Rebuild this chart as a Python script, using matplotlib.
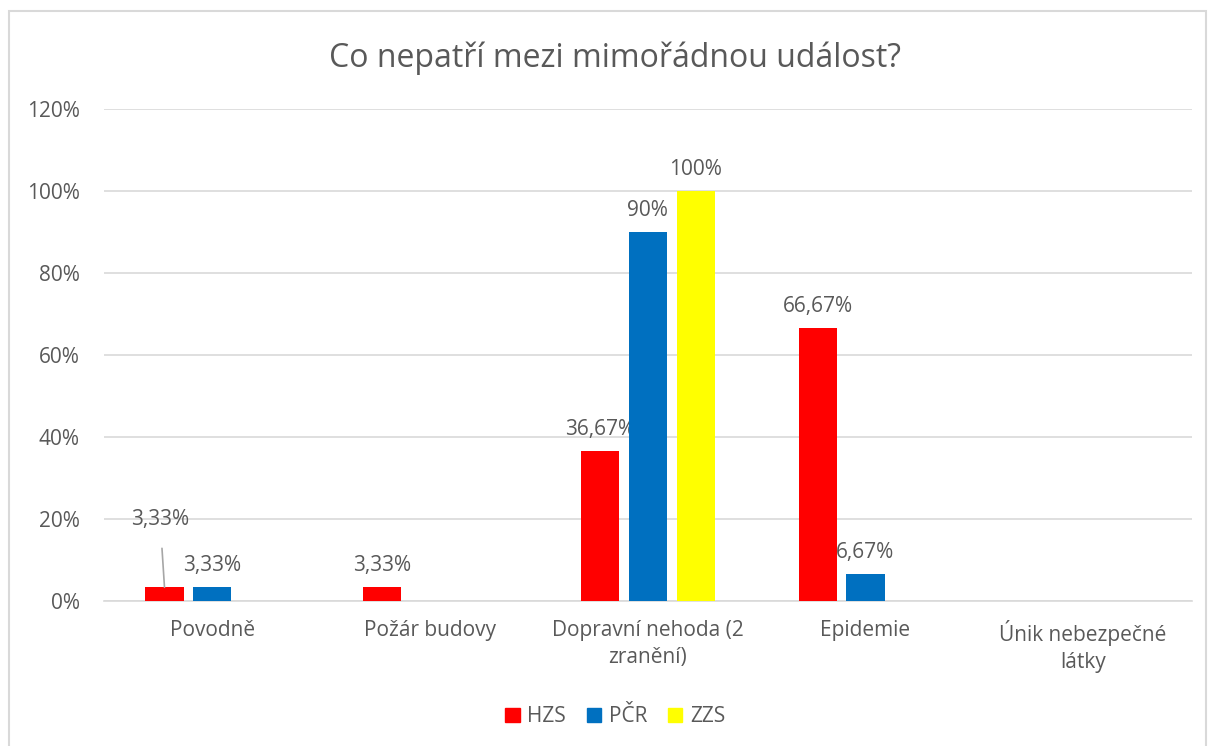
import matplotlib.pyplot as plt
import matplotlib.patches as mpatches
import numpy as np

plt.rcParams['font.family'] = ['Open Sans', 'DejaVu Sans']

# --- data ---
categories = ['Povodně', 'Požár budovy', 'Dopravní nehoda (2\nzranění)', 'Epidemie', 'Únik nebezpečné\nlátky']
series_names = ['HZS', 'PČR', 'ZZS']
hzs = [3.33, 3.33, 36.67, 66.67, 0]
pcr = [3.33, 0, 90, 6.67, 0]
zzs = [0, 0, 100, 0, 0]
colors = ['#FF0000', '#0070C0', '#FFFF00']
yticks = [0, 20, 40, 60, 80, 100, 120]

TEXT = '#595959'
GRID = '#D9D9D9'
FS = 15

fig = plt.figure(figsize=(12.11, 7.46), dpi=100)
# outer chart border, like excel
fig.patches.append(mpatches.Rectangle((0.0075, -0.01), 0.988, 0.995, transform=fig.transFigure,
                                      fill=False, edgecolor='#D9D9D9', linewidth=1.5))
ax = fig.add_axes([0.0855, 0.1944, 0.8988, 0.6595])

x = np.arange(len(categories))
width = 0.175
step = 0.22
all_vals = [hzs, pcr, zzs]
for i, vals in enumerate(all_vals):
    pos = x + (i - 1) * step
    ax.bar(pos, vals, width, color=colors[i], zorder=3, label=series_names[i])
    for j, v in enumerate(vals):
        if v == 0:
            continue
        lab = ('%.2f' % v).rstrip('0').rstrip('.').replace('.', ',') + '%'
        if i == 0 and j == 0:
            # label moved up with a leader line
            ax.annotate(lab, xy=(pos[j], v), xytext=(pos[j] - 0.02, 19.8),
                        ha='center', va='center', fontsize=FS, color=TEXT,
                        arrowprops=dict(arrowstyle='-', color='#A6A6A6', lw=1.2,
                                        shrinkA=11, shrinkB=0))
        else:
            ax.annotate(lab, xy=(pos[j], v), xytext=(0, 8), textcoords='offset points',
                        ha='center', va='bottom', fontsize=FS, color=TEXT)

ax.set_xlim(-0.5, len(categories) - 0.5)
ax.set_ylim(0, 120)
ax.set_yticks(yticks)
ax.set_yticklabels(['%d%%' % t for t in yticks], color=TEXT, fontsize=FS)
ax.set_xticks(x)
ax.set_xticklabels(categories, color=TEXT, fontsize=FS, linespacing=1.35, va='top')
ax.tick_params(axis='both', length=0)
ax.tick_params(axis='y', pad=17)
ax.tick_params(axis='x', pad=14)
ax.grid(axis='y', color=GRID, linewidth=1.2, zorder=0)
for s in ['top', 'right', 'left']:
    ax.spines[s].set_visible(False)
ax.spines['bottom'].set_color(GRID)
ax.spines['bottom'].set_linewidth(1.2)

fig.text(0.508, 0.922, 'Co nepatří mezi mimořádnou událost?', ha='center', va='center',
         fontsize=23, color=TEXT)

handles = [mpatches.Patch(color=c) for c in colors]
fig.legend(handles, series_names, loc='center', bbox_to_anchor=(0.508, 0.039), ncol=3,
           frameon=False, fontsize=FS, labelcolor=TEXT, handlelength=0.7, handleheight=0.7,
           handletextpad=0.35, columnspacing=1.0)

fig.savefig('out.png', dpi=100)
